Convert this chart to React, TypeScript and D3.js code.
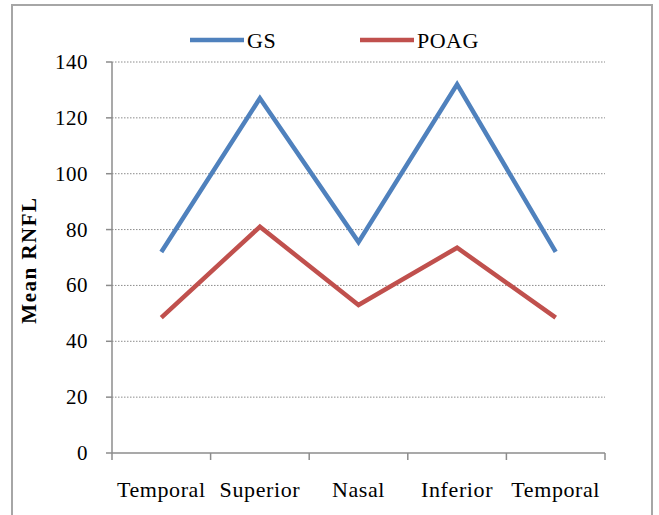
import * as d3 from "d3"

const categories = ["Temporal", "Superior", "Nasal", "Inferior", "Temporal"]
const gsValues = [72, 127, 75.5, 132, 72]
const poagValues = [48.5, 81, 53, 73.5, 48.5]
const yTicks = [0, 20, 40, 60, 80, 100, 120, 140]
const series = [
  { name: "GS", values: gsValues, color: "#4F81BD" },
  { name: "POAG", values: poagValues, color: "#C0504D" },
]

const W = 659, H = 515
const M = { left: 112, right: 605, top: 62, bottom: 453 }
const FONT = "'Liberation Serif', 'Times New Roman', serif"

export default function App() {
  const x = d3.scaleBand<number>().domain(categories.map((_, i) => i)).range([M.left, M.right])
  const y = d3.scaleLinear().domain([0, 140]).range([M.bottom, M.top])
  const cx = (i: number) => x(i)! + x.bandwidth() / 2
  const line = d3.line<number>().x((_, i) => cx(i)).y(d => y(d))
  const bounds = categories.map((_, i) => x(i)!).concat([M.right])

  return (
    <svg width={W} height={H} style={{ position: "absolute", left: 0, top: 0, background: "#fff" }}>
      <rect x={12} y={5} width={640} height={530} fill="#fff" stroke="#a6a6a6" strokeWidth={2} />

      {yTicks.filter(t => t > 0).map(t => (
        <line key={t} x1={M.left} x2={M.right} y1={y(t)} y2={y(t)} stroke="#8c8c8c" strokeWidth={1} strokeDasharray="1.5,1.5" />
      ))}

      <line x1={M.left} x2={M.left} y1={M.top} y2={M.bottom} stroke="#8c8c8c" strokeWidth={1.5} />
      {yTicks.map(t => (
        <g key={t}>
          <line x1={M.left - 6} x2={M.left} y1={y(t)} y2={y(t)} stroke="#8c8c8c" strokeWidth={1.5} />
          <text x={M.left - 24} y={y(t) + 7} textAnchor="end" fontFamily={FONT} fontSize={21} letterSpacing={0.5} fill="#000">{t}</text>
        </g>
      ))}

      <line x1={M.left} x2={M.right} y1={M.bottom} y2={M.bottom} stroke="#8c8c8c" strokeWidth={1.5} />
      {bounds.map((b, i) => (
        <line key={i} x1={b} x2={b} y1={M.bottom} y2={M.bottom + 7} stroke="#8c8c8c" strokeWidth={1.5} />
      ))}
      {categories.map((c, i) => (
        <text key={i} x={cx(i)} y={497} textAnchor="middle" fontFamily={FONT} fontSize={22} letterSpacing={0.6} fill="#000">{c}</text>
      ))}

      <text transform="translate(36,260) rotate(-90)" textAnchor="middle"
        fontFamily={FONT} fontSize={21} fontWeight="bold" letterSpacing={1.5} fill="#000">Mean RNFL</text>

      {series.map(s => (
        <path key={s.name} d={line(s.values)!} fill="none" stroke={s.color} strokeWidth={4.5} strokeLinejoin="miter" />
      ))}

      {series.map((s, i) => {
        const lx = i === 0 ? 190 : 360
        return (
          <g key={s.name}>
            <line x1={lx} x2={lx + 54} y1={40} y2={40} stroke={s.color} strokeWidth={4.5} />
            <text x={lx + 57} y={48} fontFamily={FONT} fontSize={22} letterSpacing={0.5} fill="#000">{s.name}</text>
          </g>
        )
      })}
    </svg>
  )
}
